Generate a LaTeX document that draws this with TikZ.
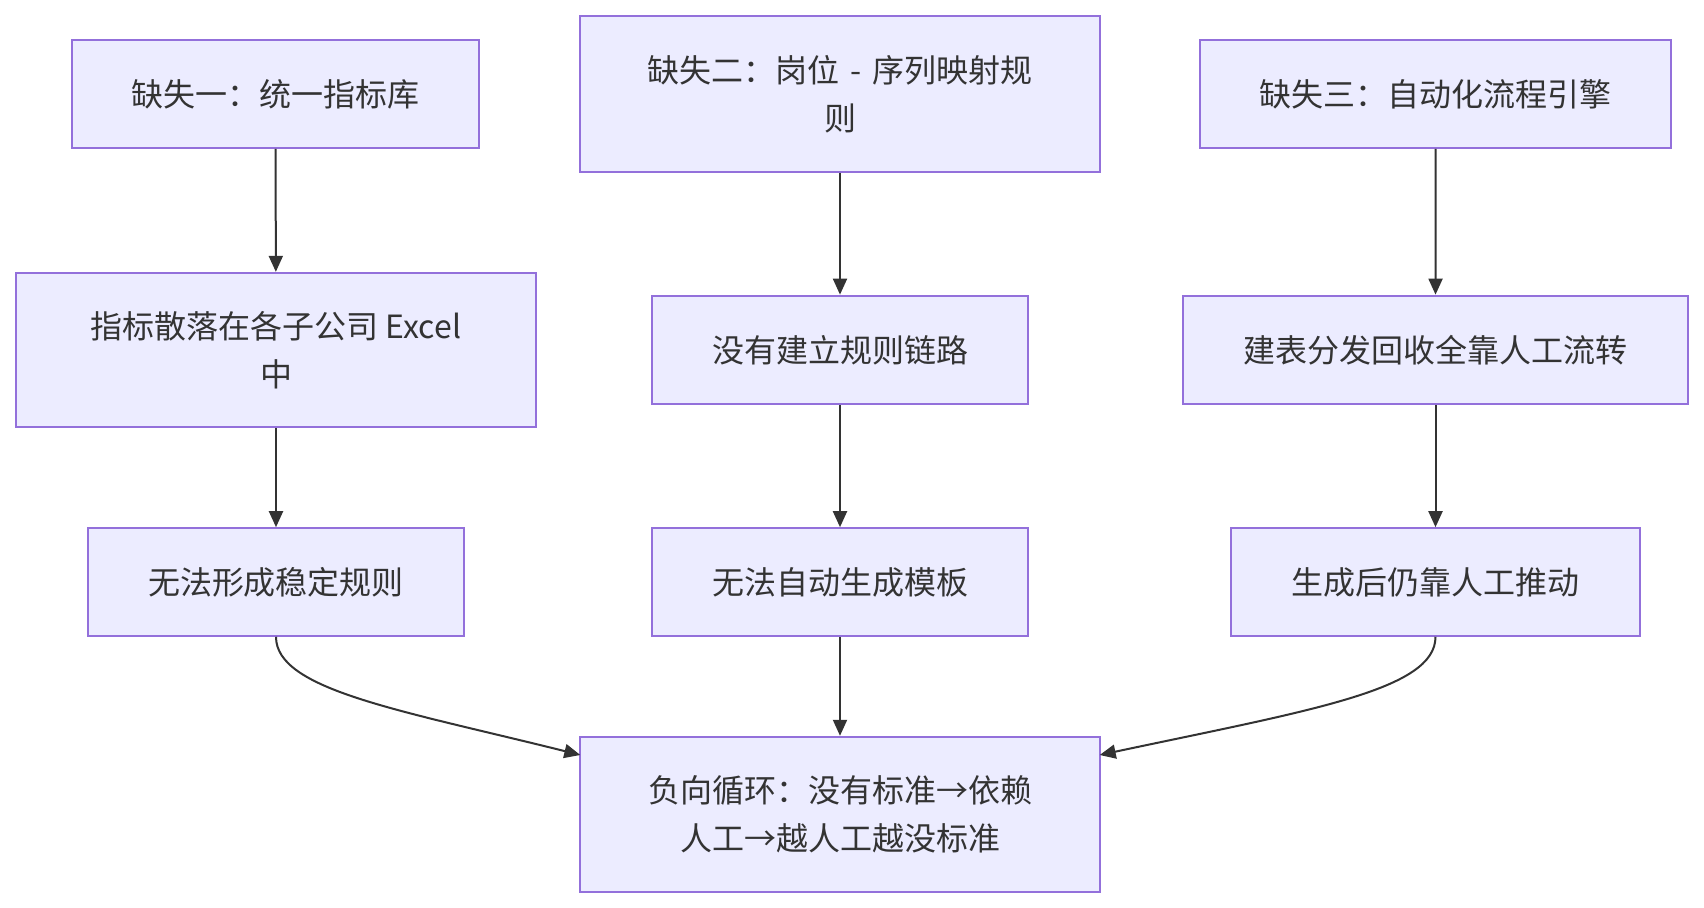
\documentclass[tikz,border=0pt]{standalone}
\usepackage{fontspec}
\setmainfont{Noto Sans CJK SC}
\usetikzlibrary{arrows.meta}
\definecolor{boxfill}{HTML}{ECECFF}
\definecolor{boxline}{HTML}{9370DB}
\definecolor{ink}{HTML}{333333}
\tikzset{
  box/.style={draw=boxline, fill=boxfill, line width=1pt, text=ink, align=center,
    font=\fontsize{16pt}{24pt}\selectfont, inner sep=0pt},
  link/.style={draw=ink, line width=1pt, -{Triangle[length=8pt,width=7pt]}}
}
\begin{document}
\begin{tikzpicture}[x=0.5pt,y=-0.5pt]
\useasboundingbox (0,0) rectangle (1704,908);
\node[box, minimum width=203.75pt, minimum height=53.8pt] (a1) at (275.5,94) {缺失一：统一指标库};
\node[box, minimum width=259.7pt, minimum height=77.7pt] (b1) at (840,94) {缺失二：岗位\hspace{2pt} - \hspace{2pt}序列映射规\\则};
\node[box, minimum width=235.85pt, minimum height=53.8pt] (c1) at (1435.6,94) {缺失三：自动化流程引擎};
\node[box, minimum width=259.7pt, minimum height=77.15pt] (a2) at (276,350) {指标散落在各子公司 Excel\\中};
\node[box, minimum width=188pt, minimum height=54.35pt] (b2) at (840,350) {没有建立规则链路};
\node[box, minimum width=252.1pt, minimum height=54.35pt] (c2) at (1435.5,350) {建表分发回收全靠人工流转};
\node[box, minimum width=188pt, minimum height=53.8pt] (a3) at (276,582) {无法形成稳定规则};
\node[box, minimum width=188pt, minimum height=53.8pt] (b3) at (840,582) {无法自动生成模板};
\node[box, minimum width=204.3pt, minimum height=53.8pt] (c3) at (1435.5,582) {生成后仍靠人工推动};
\node[box, minimum width=259.7pt, minimum height=77.7pt] (d) at (840,814.5) {负向循环：没有标准→依赖\\人工→越人工越没标准};
\coordinate (dl) at (580.3,755);
\coordinate (dr) at (1099.7,755);
\draw[link] (a1) -- (a2);
\draw[link] (a2) -- (a3);
\draw[link] (b1) -- (b2);
\draw[link] (b2) -- (b3);
\draw[link] (c1) -- (c2);
\draw[link] (c2) -- (c3);
\draw[link] (b3) -- (d);
\draw[link] (a3.south) .. controls (276,690) and (400,710) .. (dl);
\draw[link] (c3.south) .. controls (1435.5,690) and (1311.5,710) .. (dr);
\end{tikzpicture}
\end{document}
